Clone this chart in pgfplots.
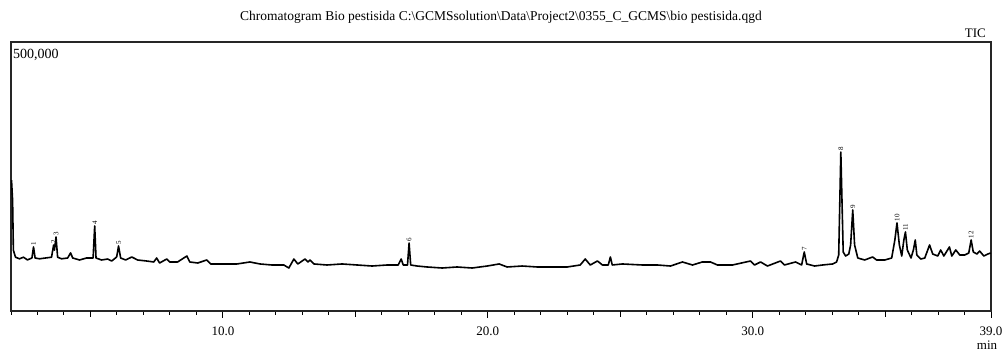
\documentclass[border=0pt]{standalone}
\usepackage{pgfplots}
\pgfplotsset{compat=1.18}
\usepackage{fontspec}
\setmainfont{Liberation Serif}
\begin{document}
\begin{tikzpicture}
\begin{axis}[
  scale only axis,
  width=980pt, height=269pt,
  xmin=2.0, xmax=39.0,
  ymin=0, ymax=500000,
  axis line style={line width=1.1pt, black!85},
  xtick={10,20,30,39},
  xticklabels={10.0,20.0,30.0,39.0},
  minor xtick={2,3,...,39},
  extra x ticks={5,15,25,35},
  extra x tick labels={},
  extra x tick style={major tick length=6pt},
  ytick=\empty,
  xtick pos=bottom,
  tick align=outside,
  major tick length=7pt,
  minor tick length=4pt,
  every tick/.style={black, line width=1pt},
  /pgf/number format/assume math mode=true,
  xticklabel style={font=\fontsize{13}{13}\selectfont, yshift=-5pt},
  clip=false,
]
\addplot[black, line width=1.6pt, line join=round] coordinates {
(2.02,243000) (2.06,206000) (2.09,113000) (2.17,100000) (2.32,97000) (2.47,100000)
(2.62,95000) (2.79,98500) (2.85,119000) (2.91,98500) (3.08,97000) (3.30,98500)
(3.53,100000) (3.61,122700) (3.64,113000) (3.70,137500) (3.76,100000) (3.91,97000)
(4.14,98500) (4.25,108000) (4.33,98500) (4.59,94800) (4.85,98500) (5.10,98500)
(5.16,158000) (5.21,98500) (5.42,94800) (5.65,96600) (5.80,92900) (5.99,100400)
(6.06,120800) (6.14,98500) (6.33,94800) (6.56,100400) (6.78,94800) (7.12,92900)
(7.39,91100) (7.50,98500) (7.61,89200) (7.88,96600) (7.99,91100) (8.29,91100)
(8.64,102200) (8.75,91100) (9.05,89200) (9.39,94800) (9.54,87400) (9.96,87400)
(10.53,87400) (11.02,91100) (11.40,87400) (11.85,85500) (12.30,85500) (12.49,79900)
(12.68,96600) (12.83,87400) (13.10,96600) (13.21,91100) (13.29,94800) (13.44,87400)
(13.93,85500) (14.50,87400) (15.07,85500) (15.63,83600) (16.20,85500) (16.62,85500)
(16.73,96600) (16.81,85500) (16.97,85500) (17.03,126400) (17.09,85500) (17.33,83600)
(17.71,81800) (18.28,79900) (18.84,81800) (19.41,79900) (19.98,83600) (20.43,87400)
(20.73,81800) (21.30,83600) (21.87,81800) (22.43,81800) (23.00,81800) (23.49,85500)
(23.68,96600) (23.87,85500) (24.14,92900) (24.33,85500) (24.55,85500) (24.63,100400)
(24.70,85500) (25.08,87400) (25.84,85500) (26.40,85500) (26.90,83600) (27.35,91100)
(27.73,85500) (28.10,91100) (28.41,91100) (28.67,85500) (29.24,85500) (29.92,92900)
(30.07,85500) (30.30,91100) (30.56,83600) (31.05,92900) (31.20,85500) (31.62,91100)
(31.85,85500) (31.95,109700) (32.04,87400) (32.34,83600) (32.64,85500) (33.02,87400)
(33.17,91100) (33.25,104100) (33.33,295500) (33.42,109700) (33.51,102200) (33.63,105900)
(33.70,122700) (33.78,187700) (33.85,122700) (33.97,98500) (34.23,94800) (34.53,100400)
(34.68,94800) (34.99,94800) (35.25,98500) (35.37,132000) (35.45,163600) (35.54,122700)
(35.63,102200) (35.71,132000) (35.77,146800) (35.84,113400) (35.98,98500) (36.07,113400)
(36.14,132000) (36.20,104100) (36.35,96600) (36.50,98500) (36.68,122700) (36.80,105900)
(36.99,102200) (37.10,113400) (37.22,102200) (37.43,119000) (37.52,102200) (37.67,113400)
(37.82,104100) (38.01,104100) (38.16,107800) (38.25,132000) (38.33,109700) (38.47,105900)
(38.57,111500) (38.73,102200) (38.88,105900) (38.99,107800)
};
\tikzset{pk/.style={rotate=90, anchor=west, inner sep=1.5pt, font=\fontsize{7}{7}\selectfont}}
\node[pk] at (axis cs:2.85,119000) {1};
\node[pk] at (axis cs:3.61,122700) {2};
\node[pk] at (axis cs:3.70,137500) {3};
\node[pk] at (axis cs:5.16,158000) {4};
\node[pk] at (axis cs:6.06,120800) {5};
\node[pk] at (axis cs:17.03,126400) {6};
\node[pk] at (axis cs:31.95,109700) {7};
\node[pk] at (axis cs:33.33,295500) {8};
\node[pk] at (axis cs:33.78,187700) {9};
\node[pk] at (axis cs:35.45,163600) {10};
\node[pk] at (axis cs:35.77,146800) {11};
\node[pk] at (axis cs:38.25,132000) {12};
\end{axis}
\node[anchor=north west, font=\fontsize{14}{14}\selectfont, inner sep=0pt] at ([xshift=2pt,yshift=-7pt]current axis.north west) {500,000};
\node[anchor=south east, font=\fontsize{13}{13}\selectfont, inner sep=0pt] at ([xshift=-5pt,yshift=4pt]current axis.north east) {TIC};
\node[anchor=center, font=\fontsize{13.5}{13.5}\selectfont, inner sep=0pt] at ([yshift=25pt]current axis.north) {Chromatogram Bio pestisida C:\textbackslash GCMSsolution\textbackslash Data\textbackslash Project2\textbackslash 0355\_C\_GCMS\textbackslash bio pestisida.qgd};
\node[anchor=center, font=\fontsize{13}{13}\selectfont, inner sep=0pt] at ([xshift=-4pt,yshift=-34pt]current axis.south east) {min};
\pgfresetboundingbox
\path[use as bounding box] ([xshift=-11pt,yshift=-43pt]current axis.south west) rectangle ([xshift=12pt,yshift=42pt]current axis.north east);
\end{tikzpicture}
\end{document}
